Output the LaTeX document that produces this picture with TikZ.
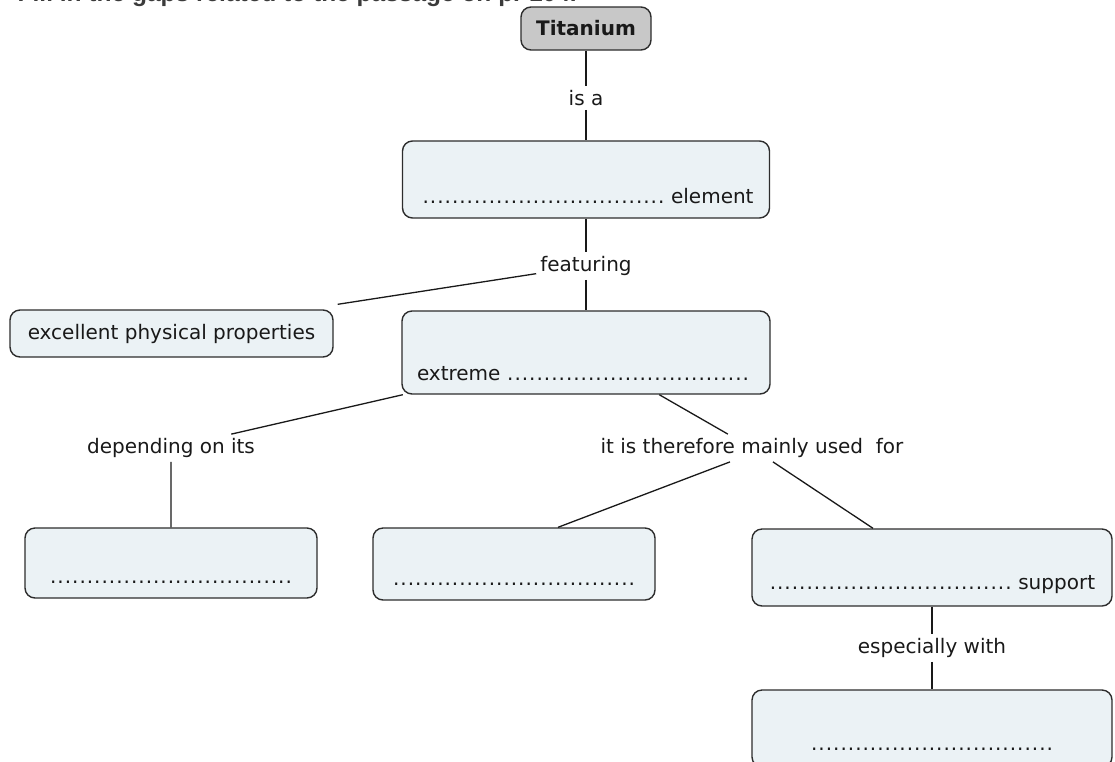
\documentclass[tikz,border=0pt]{standalone}
\usepackage{fontspec}
\setmainfont{DejaVu Sans}
\newfontfamily\headfont{Liberation Sans}
\newfontfamily\dotsfont[LetterSpace=5]{DejaVu Sans}
\definecolor{boxfill}{RGB}{235,242,245}
\definecolor{topfill}{RGB}{200,200,200}
\definecolor{boxline}{RGB}{45,45,45}
\definecolor{ink}{RGB}{25,25,25}
\newcommand{\fillgap}{{\dotsfont .................................}}
\tikzset{
  concept/.style={draw=boxline, fill=boxfill, line width=1.4pt, rounded corners=10pt, inner sep=0pt, text=ink},
  linkword/.style={inner sep=4pt, text=ink},
  link/.style={line width=1.3pt, draw=ink},
}

\begin{document}
\begin{tikzpicture}[x=1pt, y=-1pt, font=\fontsize{20}{24}\selectfont]
	\useasboundingbox (0,0) rectangle (1115,761);
	\clip (0,0) rectangle (1115,761);
	\node[anchor=base east, inner sep=0pt, text=ink!85, font=\headfont\fontsize{24.5}{28}\selectfont\bfseries] (head) at (577,1.5) {Fill in the gaps related to the passage on p. 104.};

	\node[concept, fill=topfill, minimum width=130pt, minimum height=43pt, font=\fontsize{20}{24}\selectfont\bfseries] (titanium) at (586,28.5) {Titanium};
	\node[linkword] (isa) at (586,98) {is a};
	\node[concept, text width=335pt, inner xsep=16pt, align=right, text height=62pt, text depth=15pt] (element) at (586,179.5) {\fillgap\ element};
	\node[linkword] (featuring) at (586,266) {featuring};
	\node[concept, minimum width=323pt, minimum height=47pt] (excellent) at (171.5,333.5) {excellent physical properties};
	\node[concept, text width=338pt, inner xsep=15pt, align=left, text height=69pt, text depth=14pt] (extreme) at (586,352.5) {extreme \fillgap};

	\node[linkword] (depending) at (171,448) {depending on its};
	\node[linkword] (therefore) at (752,448) {it is therefore mainly used~ for};

	\node[concept, text width=260pt, inner xsep=16pt, align=center, text height=55pt, text depth=15pt] (factorbox) at (171,563) {\fillgap};
	\node[concept, text width=250pt, inner xsep=16pt, align=center, text height=57pt, text depth=15pt] (useone) at (514,564) {\fillgap};
	\node[concept, text width=326pt, inner xsep=17pt, align=right, text height=60pt, text depth=17pt] (usetwo) at (932,567.5) {\fillgap\ support};
	\node[linkword] (especially) at (932,648) {especially with};
	\node[concept, text width=326pt, inner xsep=17pt, align=center, text height=60pt, text depth=17pt] (withbox) at (932,728.5) {\fillgap};

	\draw[link] (titanium) -- (isa) -- (element);
	\draw[link] (element) -- (featuring) -- (extreme);
	\draw[link] (featuring) -- ([shift={(4,-5)}]excellent.north east);
	\draw[link] (extreme) -- (depending) -- (factorbox);
	\draw[link] (extreme) -- (therefore) -- (usetwo);
	\draw[link] ([xshift=-22pt]therefore.south) -- ([xshift=44pt]useone.north);
	\draw[link] (usetwo) -- (especially) -- (withbox);
\end{tikzpicture}
\end{document}
